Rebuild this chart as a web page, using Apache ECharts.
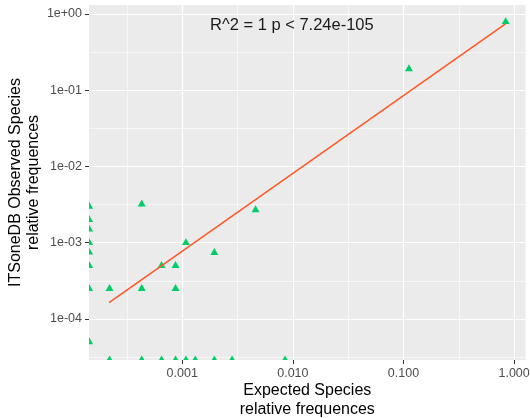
<!DOCTYPE html>
<html>
<head>
<meta charset="utf-8">
<script src="https://cdn.jsdelivr.net/npm/echarts@6/dist/echarts.min.js"></script>
<style>
  html, body { margin: 0; padding: 0; background: #fff; }
  #chart { width: 530px; height: 418px; }
</style>
</head>
<body>
<div id="chart"></div>
<script>
// expected vs observed relative frequences (log-log)
const expected = [
  1.44e-4, 1.44e-4, 1.44e-4, 1.44e-4, 1.44e-4, 1.44e-4, 1.44e-4, 1.44e-4,
  2.2e-4, 4.3e-4, 4.3e-4, 6.5e-4, 8.7e-4, 8.7e-4, 1.08e-3, 1.95e-3, 4.6e-3, 0.112, 0.84,
  2.2e-4, 4.3e-4, 6.5e-4, 8.7e-4, 1.08e-3, 1.31e-3, 1.95e-3, 2.82e-3, 8.5e-3
]
const observed = [
  3e-3, 2e-3, 1.5e-3, 1e-3, 7.5e-4, 5e-4, 2.5e-4, 5e-5,
  2.5e-4, 3.2e-3, 2.5e-4, 5e-4, 5e-4, 2.5e-4, 1e-3, 7.4e-4, 2.7e-3, 0.19, 0.79,
  2.9e-5, 2.9e-5, 2.9e-5, 2.9e-5, 2.9e-5, 2.9e-5, 2.9e-5, 2.9e-5, 2.9e-5
]
// fitted line end points
const fitX = [2.18e-4, 0.836]
const fitY = [1.64e-4, 0.739]

const xTickVals = [0.001, 0.01, 0.1, 1]
const xTickLabels = ['0.001', '0.010', '0.100', '1.000']
const xMinorVals = [3.162e-4, 3.162e-3, 3.162e-2, 0.3162]
const yTickVals = [1e-4, 1e-3, 1e-2, 1e-1, 1]
const yTickLabels = ['1e-04', '1e-03', '1e-02', '1e-01', '1e+00']
const yMinorVals = [3.162e-5, 3.162e-4, 3.162e-3, 3.162e-2, 0.3162]

const xRange = [1.435e-4, 1.268]
const yRange = [2.9e-5, 1.31]

const pointColor = '#00CD66'
const lineColor = '#FF5722'

function pickLabel(vals, labels, v) {
  const i = vals.findIndex(t => Math.abs(Math.log10(t) - Math.log10(v)) < 1e-6)
  return i < 0 ? '' : labels[i]
}

const chart = echarts.init(document.getElementById('chart'))
const points = expected.map((x, i) => [x, observed[i]])

const minorLine = { show: true, lineStyle: { color: '#fff', width: 0.6 } }

chart.setOption({
  animation: false,
  textStyle: { fontFamily: 'Liberation Sans' },
  title: {
    text: 'R^2 = 1 p < 7.24e-105',
    left: 210,
    top: 16,
    padding: 0,
    textStyle: { fontSize: 16.5, fontWeight: 'normal', color: '#1a1a1a', lineHeight: 18 },
  },
  grid: {
    left: 89, right: 4.5, top: 5, bottom: 58,
    containLabel: false, outerBoundsMode: 'none',
    show: true, backgroundColor: '#EBEBEB', borderWidth: 0,
  },
  xAxis: [
    {
      type: 'log', logBase: 10, min: xRange[0], max: xRange[1],
      name: 'Expected Species\nrelative frequences',
      nameLocation: 'middle', nameGap: 21.5, nameMoveOverlap: false,
      nameTextStyle: { fontSize: 16, color: '#000', lineHeight: 18.5 },
      axisLine: { show: false },
      axisTick: { show: true, length: 4, customValues: xTickVals, lineStyle: { color: '#333' } },
      axisLabel: {
        customValues: xTickVals, margin: 7, fontSize: 12.5, color: '#4D4D4D',
        formatter: v => pickLabel(xTickVals, xTickLabels, v),
      },
      splitLine: { show: true, lineStyle: { color: '#fff', width: 1.2 } },
    },
    {
      type: 'log', logBase: 10, min: xRange[0], max: xRange[1], position: 'top',
      axisLine: { show: false },
      axisTick: { show: false, customValues: xMinorVals },
      axisLabel: { show: false },
      splitLine: minorLine,
    },
  ],
  yAxis: [
    {
      type: 'log', logBase: 10, min: yRange[0], max: yRange[1],
      name: 'ITSoneDB Observed Species\nrelative frequences',
      nameLocation: 'middle', nameGap: 46.5, nameMoveOverlap: false,
      nameTextStyle: { fontSize: 16, color: '#000', lineHeight: 18 },
      axisLine: { show: false },
      axisTick: { show: true, length: 4, customValues: yTickVals, lineStyle: { color: '#333' } },
      axisLabel: {
        customValues: yTickVals, margin: 7, fontSize: 12.5, color: '#4D4D4D',
        formatter: v => pickLabel(yTickVals, yTickLabels, v),
      },
      splitLine: { show: true, lineStyle: { color: '#fff', width: 1.2 } },
    },
    {
      type: 'log', logBase: 10, min: yRange[0], max: yRange[1], position: 'right',
      axisLine: { show: false },
      axisTick: { show: false, customValues: yMinorVals },
      axisLabel: { show: false },
      splitLine: minorLine,
    },
  ],
  series: [
    {
      type: 'custom',
      clip: true,
      data: points,
      encode: { x: 0, y: 1 },
      z: 2,
      renderItem: function (params, api) {
        const p = api.coord([api.value(0), api.value(1)])
        const r = 4.6
        return {
          type: 'polygon',
          shape: { points: [[p[0], p[1] - r], [p[0] - r * 0.866, p[1] + r / 2], [p[0] + r * 0.866, p[1] + r / 2]] },
          style: { fill: pointColor },
        }
      },
    },
    {
      type: 'line',
      data: fitX.map((x, i) => [x, fitY[i]]),
      symbol: 'none',
      z: 3,
      lineStyle: { color: lineColor, width: 1.5 },
    },
  ],
})
</script>
</body>
</html>
